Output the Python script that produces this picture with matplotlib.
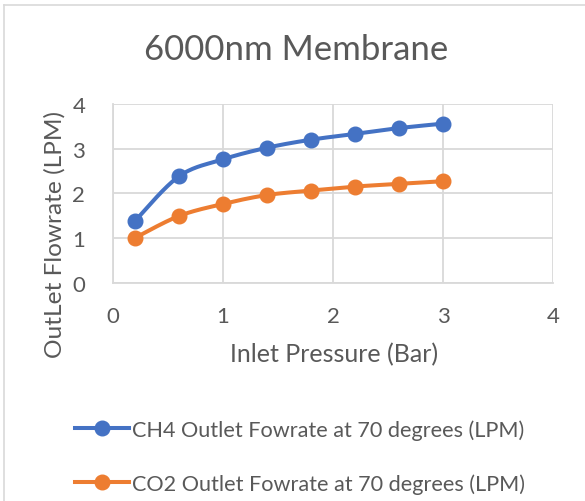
import numpy as np
import matplotlib
matplotlib.use("Agg")
import matplotlib.pyplot as plt
from matplotlib.lines import Line2D

# Data
pressure = [0.2, 0.6, 1.0, 1.4, 1.8, 2.2, 2.6, 3.0]
ch4_flow = [1.38, 2.38, 2.76, 3.02, 3.20, 3.33, 3.46, 3.56]
co2_flow = [1.00, 1.49, 1.76, 1.96, 2.06, 2.15, 2.21, 2.27]
series_labels = ["CH4 Outlet Fowrate at 70 degrees (LPM)",
                 "CO2 Outlet Fowrate at 70 degrees (LPM)"]
x_ticks = [0, 1, 2, 3, 4]
y_ticks = [0, 1, 2, 3, 4]

BLUE = "#4472C4"
ORANGE = "#ED7D31"
GRID = "#D9D9D9"
TEXT = "#595959"
FONT = ["Lato", "DejaVu Sans"]

plt.rcParams["font.family"] = FONT


def smooth(xs, ys, n=30, t=1 / 6):
    """Cardinal Bezier smoothing through all points."""
    xs = np.asarray(xs, float)
    ys = np.asarray(ys, float)
    px, py = [], []
    m = len(xs)
    for i in range(m - 1):
        i0 = max(i - 1, 0)
        i3 = min(i + 2, m - 1)
        p0 = np.array([xs[i], ys[i]])
        p3 = np.array([xs[i + 1], ys[i + 1]])
        c1 = p0 + t * (np.array([xs[i + 1], ys[i + 1]]) - np.array([xs[i0], ys[i0]]))
        c2 = p3 - t * (np.array([xs[i3], ys[i3]]) - np.array([xs[i], ys[i]]))
        s = np.linspace(0, 1, n)[:, None]
        pts = ((1 - s) ** 3) * p0 + 3 * ((1 - s) ** 2) * s * c1 + 3 * (1 - s) * s ** 2 * c2 + s ** 3 * p3
        px.extend(pts[:, 0])
        py.extend(pts[:, 1])
    return px, py


W, H = 585, 502
fig = plt.figure(figsize=(W / 100, H / 100), dpi=100)

# outer chart border (top and left edges)
fig.add_artist(Line2D([4 / W, 4 / W], [0, 1 - 6 / H], color=GRID, lw=1.2))
fig.add_artist(Line2D([4 / W, 1], [1 - 6 / H, 1 - 6 / H], color=GRID, lw=1.2))

left, right, top, bottom = 113 / W, 553 / W, 105 / H, 283.5 / H
ax = fig.add_axes([left, 1 - bottom, right - left, bottom - top])

for ys, col in ((ch4_flow, BLUE), (co2_flow, ORANGE)):
    sx, sy = smooth(pressure, ys)
    ax.plot(sx, sy, color=col, lw=2.9, solid_capstyle="round", zorder=3)
    ax.plot(pressure, ys, "o", color=col, ms=10.5, zorder=4)

ax.set_xlim(0, 4)
ax.set_ylim(0, 4)
ax.set_xticks(x_ticks)
ax.set_yticks(y_ticks)
ax.grid(True, color=GRID, lw=1.3)
ax.set_axisbelow(True)
for sp in ("top", "right"):
    ax.spines[sp].set_visible(False)
for sp in ("left", "bottom"):
    ax.spines[sp].set_color(GRID)
    ax.spines[sp].set_linewidth(1.3)
ax.tick_params(length=0, labelsize=16, colors=TEXT, pad=20)
ax.tick_params(axis="x", pad=17)

# axis titles
fig.text(334 / W, 1 - 355 / H, "Inlet Pressure (Bar)", fontsize=18, color=TEXT,
         ha="center", va="center")
fig.text(55 / W, 1 - 235 / H, "OutLet Flowrate (LPM)", fontsize=17.6, color=TEXT,
         ha="center", va="center", rotation=90)

fig.text(296 / W, 1 - 50 / H, "6000nm Membrane", fontsize=25, color=TEXT,
         ha="center", va="center")

handles = [Line2D([], [], color=BLUE, lw=2.9, marker="o", ms=10.5),
           Line2D([], [], color=ORANGE, lw=2.9, marker="o", ms=10.5)]
leg = fig.legend(handles, series_labels, loc="upper left",
                 bbox_to_anchor=(75 / W, 1 - 420 / H), frameon=False,
                 fontsize=15.6, handlelength=2.5, handletextpad=0.15,
                 labelspacing=1.55, borderpad=0, borderaxespad=0)
for t in leg.get_texts():
    t.set_color(TEXT)

fig.savefig("out.png", dpi=100)
